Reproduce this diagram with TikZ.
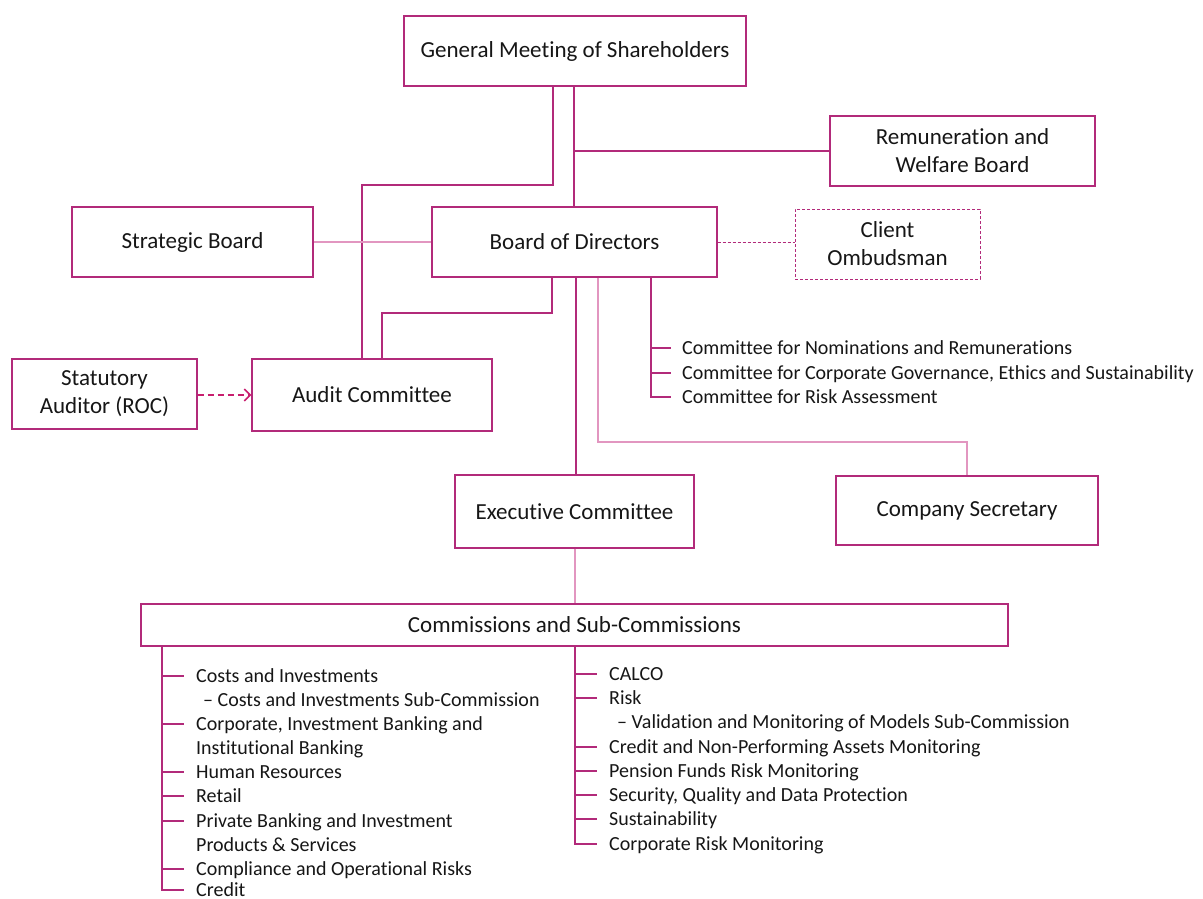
\documentclass[tikz,border=0pt]{standalone}
\usepackage{fontspec}
\setmainfont{Carlito}[Ligatures=NoCommon]
\usetikzlibrary{arrows.meta}
\definecolor{mag}{RGB}{178,42,122}
\definecolor{lmag}{RGB}{226,150,192}
\definecolor{amag}{RGB}{200,30,110}
\definecolor{txt}{RGB}{22,22,22}
\begin{document}
\begin{tikzpicture}[x=1pt,y=-1pt,
  box/.style={draw=mag, line width=1.2pt, inner sep=0pt, align=center, text=txt, font=\fontsize{23}{28}\selectfont},
  dbox/.style={box, dashed, dash pattern=on 3pt off 2pt, line width=1pt},
  conn/.style={draw=mag, line width=1.2pt},
  lconn/.style={draw=lmag, line width=1.3pt},
  item/.style={anchor=west, inner sep=0pt, text height=14pt, text depth=2pt, text=txt, font=\fontsize{20}{24}\selectfont},
]
\useasboundingbox (0,0) rectangle (1203,899);

% boxes
\node[box, minimum width=342pt, minimum height=70pt] (gms) at (575,51) {General Meeting of Shareholders};
\node[box, minimum width=265pt, minimum height=70pt] (rem) at (962.5,151) {Remuneration and\\Welfare Board};
\node[box, minimum width=241pt, minimum height=70pt] (strat) at (192.5,242) {Strategic Board};
\node[box, minimum width=285pt, minimum height=70pt] (bod) at (574.5,242) {Board of Directors};
\node[dbox, minimum width=185pt, minimum height=70pt] (client) at (887.5,244) {Client\\Ombudsman};
\node[box, minimum width=185pt, minimum height=70pt] (stat) at (104.5,394) {Statutory\\Auditor (ROC)};
\node[box, minimum width=240pt, minimum height=72pt] (audit) at (372,395) {Audit Committee};
\node[box, minimum width=239pt, minimum height=73pt] (exec) at (574.5,511.5) {Executive Committee};
\node[box, minimum width=262pt, minimum height=69pt] (sec) at (967,510.5) {Company Secretary};
\node[box, minimum width=867pt, minimum height=42pt] (comm) at (574.5,625) {Commissions and Sub-Commissions};

% committees of the board
\node[item] (c1) at (682,348) {Committee for Nominations and Remunerations};
\node[item] (c2) at (682,373) {Committee for Corporate Governance, Ethics and Sustainability};
\node[item] (c3) at (682,397) {Committee for Risk Assessment};

% left list
\node[item] (l1) at (196,676) {Costs and Investments};
\node[item] (l1a) at (203,700) {– Costs and Investments Sub-Commission};
\node[item] (l2) at (196,724) {Corporate, Investment Banking and};
\node[item] (l2b) at (196,748) {Institutional Banking};
\node[item] (l3) at (196,772) {Human Resources};
\node[item] (l4) at (196,796) {Retail};
\node[item] (l5) at (196,821) {Private Banking and Investment};
\node[item] (l5b) at (196,845) {Products \& Services};
\node[item] (l6) at (196,869) {Compliance and Operational Risks};
\node[item] (l7) at (196,890) {Credit};

% right list
\node[item] (r1) at (609,674) {CALCO};
\node[item] (r2) at (609,698) {Risk};
\node[item] (r2a) at (617,722) {– Validation and Monitoring of Models Sub-Commission};
\node[item] (r3) at (609,747) {Credit and Non-Performing Assets Monitoring};
\node[item] (r4) at (609,771) {Pension Funds Risk Monitoring};
\node[item] (r5) at (609,795) {Security, Quality and Data Protection};
\node[item] (r6) at (609,819) {Sustainability};
\node[item] (r7) at (609,844) {Corporate Risk Monitoring};

% connectors
\draw[conn] (gms.south -| 574,0) -- (bod.north -| 574,0);
\draw[conn] (rem.west -| 574,0) -- (rem.west);
\draw[conn] (gms.south -| 553,0) -- (553,185) -- (362,185) -- (audit.north -| 362,0);
\draw[lconn] (strat.east) -- (bod.west);
\draw[draw=mag, line width=0.9pt, dashed, dash pattern=on 3pt off 2pt] (bod.east) -- (bod.east -| client.west);
\draw[conn] (bod.south -| 552,0) -- (552,313) -- (382,313) -- (audit.north -| 382,0);
\draw[conn] (bod.south -| 576,0) -- (exec.north -| 576,0);
\draw[lconn] (bod.south -| 598,0) -- (598,442) -| (sec.north);
\draw[conn] (bod.south -| 651,0) |- ([xshift=-11pt]c3.west);
\draw[conn] (c1.west -| 651,0) -- ([xshift=-11pt]c1.west);
\draw[conn] (c2.west -| 651,0) -- ([xshift=-11pt]c2.west);
\draw[draw=amag, line width=2.2pt, dashed, dash pattern=on 6pt off 4pt, -{Straight Barb[length=6pt,width=12pt,line width=1.6pt]}] (stat.east |- audit.west) -- (audit.west);
\draw[lconn] (exec.south -| 575,0) -- (comm.north -| 575,0);

% left list connectors
\draw[conn] (comm.south -| 162,0) |- ([xshift=-12pt]l7.west);
\foreach \n in {l1,l2,l3,l4,l5,l6} \draw[conn] (\n.west -| 162,0) -- ([xshift=-12pt]\n.west);
% right list connectors
\draw[conn] (comm.south -| 575,0) |- ([xshift=-12pt]r7.west);
\foreach \n in {r1,r2,r3,r4,r5,r6} \draw[conn] (\n.west -| 575,0) -- ([xshift=-12pt]\n.west);
\end{tikzpicture}
\end{document}
